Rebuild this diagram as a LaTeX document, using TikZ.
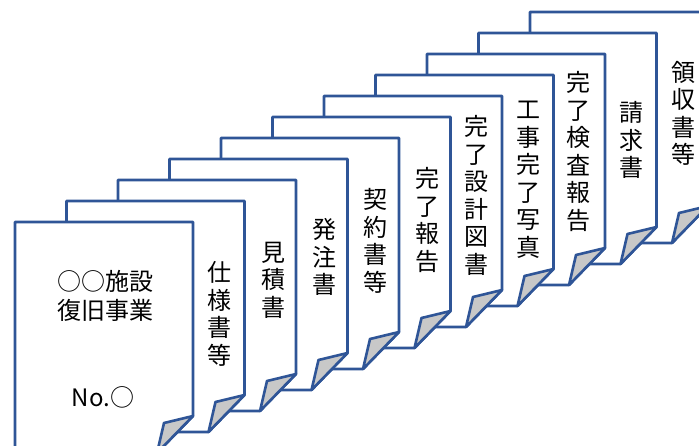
\documentclass[tikz,border=0pt]{standalone}
\usepackage{fontspec}
\setmainfont{Noto Sans CJK JP}
\definecolor{docblue}{HTML}{2F5597}
\definecolor{foldgray}{HTML}{C8C8C8}

\begin{document}
\begin{tikzpicture}[x=1pt,y=-1pt,
    page/.style={draw=docblue, line width=2.6pt, line join=round, fill=white},
    flap/.style={draw=docblue, line width=2.6pt, line join=round, fill=foldgray},
    label/.style={inner sep=0pt, align=center, font=\fontsize{24}{27.5}\selectfont},
  ]
  \useasboundingbox (0,0) rectangle (699,445);
  \clip (0,0) rectangle (699,445);

  % pages, back to front
  \foreach \i in {10,9,...,0} {
    \draw [page] ({15+51.5*\i}, {453-21*\i}) -- ({15+51.5*\i}, {222-21*\i})
      -- ({193+51.5*\i}, {222-21*\i}) -- ({193+51.5*\i}, {416-21*\i})
      -- ({157+51.5*\i}, {453-21*\i}) -- cycle;
    \draw [flap] ({193+51.5*\i}, {416-21*\i}) -- ({164+51.5*\i}, {423-21*\i})
      -- ({157+51.5*\i}, {453-21*\i}) -- cycle;
  }

  % front page
  \node [label, font=\fontsize{24}{29}\selectfont] (title) at (105,296) {○○施設\\復旧事業};
  \node [label] (number) at (103,397) {No.○};

  % spines
  \node [label] (spec)     at (219,314)   {仕\\様\\書\\等};
  \node [label] (estimate) at (273.5,280) {見\\積\\書};
  \node [label] (order)    at (324,257)   {発\\注\\書};
  \node [label] (contract) at (375,241)   {契\\約\\書\\等};
  \node [label] (report)   at (427,220)   {完\\了\\報\\告};
  \node [label] (drawings) at (476,195.5) {完\\了\\設\\計\\図\\書};
  \node [label] (photos)   at (528,180)   {工\\事\\完\\了\\写\\真};
  \node [label] (inspect)  at (578,151.5) {完\\了\\検\\査\\報\\告};
  \node [label] (invoice)  at (631,140)   {請\\求\\書};
  \node [label] (receipt)  at (683,113.5) {領\\収\\書\\等};
\end{tikzpicture}
\end{document}
